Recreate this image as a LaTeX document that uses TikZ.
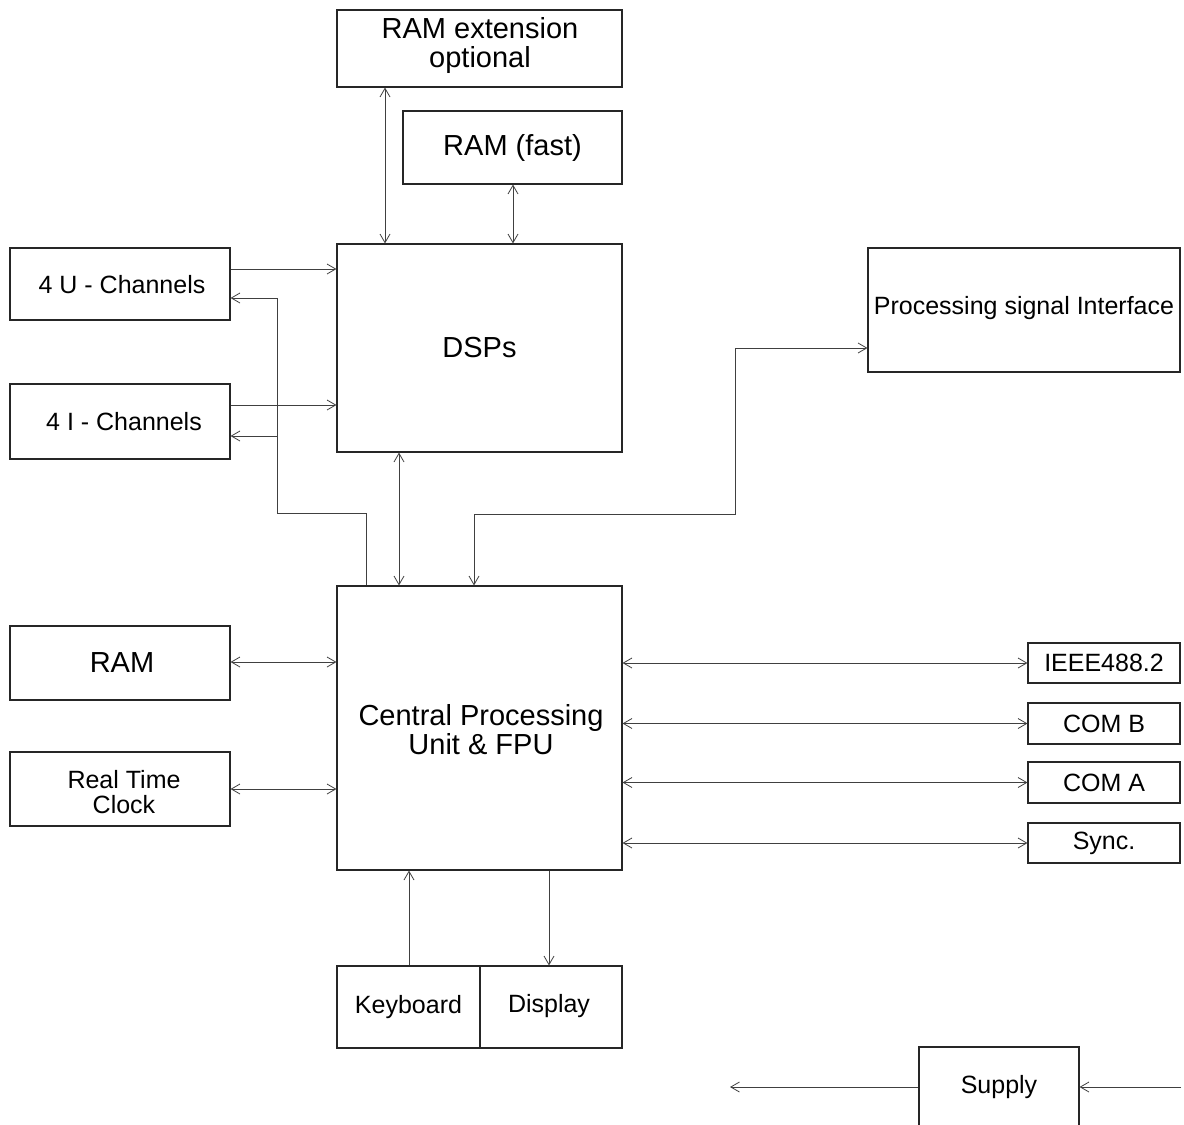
\documentclass[tikz,border=0pt]{standalone}
\usepackage{fontspec}
\setmainfont{Liberation Sans}
\usetikzlibrary{arrows.meta,fit}
\tikzset{
  box/.style={draw=black!85, line width=0.8pt, inner sep=0pt},
  txt/.style={align=center, inner sep=0pt},
  big/.style={txt, font=\fontsize{21.75}{21.75}\selectfont},
  small/.style={txt, font=\fontsize{18.75}{18.75}\selectfont},
  conn/.style={draw=black!75, line width=0.6pt},
  uni/.style={conn, -{Straight Barb[length=6.5pt,width=7.5pt,line width=0.6pt]}},
  bi/.style={conn, {Straight Barb[length=6.5pt,width=7.5pt,line width=0.6pt]}-{Straight Barb[length=6.5pt,width=7.5pt,line width=0.6pt]}},
}
\begin{document}
\begin{tikzpicture}[x=0.75pt,y=-0.75pt]
\useasboundingbox (0,0) rectangle (1184,1124);
\fill[white] (0,0) rectangle (1184,1124);
% boxes
\node[box,fit={(337,10)(622,87)}] (ramext) {};
\node[big] at (480,46) (ramextT) {RAM extension\\optional};
\node[box,fit={(403,111)(622,184)}] (ramfast) {};
\node[big] at (ramfast.center) (ramfastT) {RAM (fast)};
\node[box,fit={(337,244)(622,452)}] (dsp) {};
\node[big] at (dsp.center) (dspT) {DSPs};
\node[box,fit={(10,248)(230,320)}] (uch) {};
\node[small] at (122,285) (uchT) {4 U - Channels};
\node[box,fit={(10,384)(230,459)}] (ich) {};
\node[small] at (124,422) (ichT) {4 I - Channels};
\node[box,fit={(868,248)(1180,372)}] (psi) {};
\node[small] at (1024,308) (psiT) {Processing signal Interface};
\node[box,fit={(337,586)(622,870)}] (cpu) {};
\node[big] at (481,730) (cpuT) {Central Processing\\Unit \& FPU};
\node[box,fit={(10,626)(230,700)}] (ram) {};
\node[big] at (122,663) (ramT) {RAM};
\node[box,fit={(10,752)(230,826)}] (rtc) {};
\node[small] at (124,792) (rtcT) {Real Time\\Clock};
\node[box,fit={(1028,643)(1180,683)}] (ieee) {};
\node[small] at (ieee.center) (ieeeT) {IEEE488.2};
\node[box,fit={(1028,703)(1180,744)}] (comb) {};
\node[small] at (comb.center) (combT) {COM B};
\node[box,fit={(1028,762)(1180,803)}] (coma) {};
\node[small] at (coma.center) (comaT) {COM A};
\node[box,fit={(1028,823)(1180,863)}] (sync) {};
\node[small] at (sync.center) (syncT) {Sync.};
\node[box,fit={(337,966)(480,1048)}] (kbd) {};
\node[small] at (kbd.center) (kbdT) {Keyboard};
\node[box,fit={(480,966)(622,1048)}] (disp) {};
\node[small] at (549,1006) (dispT) {Display};
\node[box,fit={(919,1047)(1079,1130)}] (supply) {};
\node[small] at (999,1087) (supplyT) {Supply};
% connectors
\draw[bi] (ramext.south -| 385,0) -- (dsp.north -| 385,0);
\draw[bi] (ramfast.south -| 513,0) -- (dsp.north -| 513,0);
\draw[uni] (uch.east |- 0,269) -- (dsp.west |- 0,269);
\draw[uni] (ich.east |- 0,405) -- (dsp.west |- 0,405);
\draw[uni] (cpu.north -| 366,0) -- (366,513) -- (277,513) -- (277,298) -- (uch.east |- 0,298);
\draw[uni] (277,436) -- (ich.east |- 0,436);
\draw[bi] (dsp.south -| 399,0) -- (cpu.north -| 399,0);
\draw[bi] (cpu.north -| 474,0) -- (474,514) -- (735,514) -- (735,348) -- (psi.west |- 0,348);
\draw[bi] (ram.east |- 0,662) -- (cpu.west |- 0,662);
\draw[bi] (rtc.east |- 0,789) -- (cpu.west |- 0,789);
\draw[bi] (cpu.east |- ieee.west) -- (ieee.west);
\draw[bi] (cpu.east |- comb.west) -- (comb.west);
\draw[bi] (cpu.east |- coma.west) -- (coma.west);
\draw[bi] (cpu.east |- sync.west) -- (sync.west);
\draw[uni] (kbd.north -| 409,0) -- (cpu.south -| 409,0);
\draw[uni] (cpu.south -| 549,0) -- (disp.north -| 549,0);
\coordinate (supout) at (730,1087);
\coordinate (supin) at (1181,1087);
\draw[uni] (supply.west |- supout) -- (supout);
\draw[uni] (supin) -- (supply.east |- supin);
\end{tikzpicture}
\end{document}
